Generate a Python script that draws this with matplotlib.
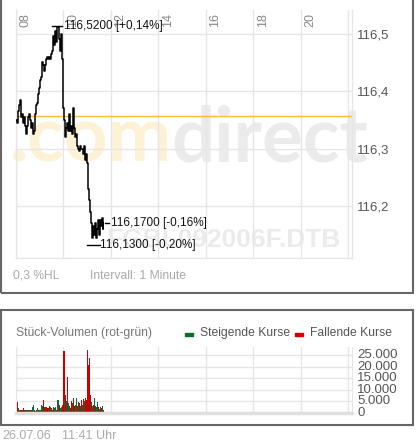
import numpy as np
import matplotlib
matplotlib.use("Agg")
import matplotlib.pyplot as plt
from matplotlib.patches import Rectangle

plt.rcParams['font.family'] = ['Liberation Sans', 'DejaVu Sans']

# ---------------- data ----------------
# price (minutes after 08:00, price)
price_minutes = [0, 3, 5, 8, 10, 13, 15, 18, 20, 23, 25, 28, 30, 33, 35, 38, 40, 43, 45, 48,
                 51, 53, 56, 58, 61, 63, 66, 68, 71, 73, 76, 78, 81, 83, 86, 88, 91, 93, 96, 98,
                 101, 104, 106, 109, 111, 114, 116, 119, 121, 124, 126, 129, 131, 134, 136, 139,
                 142, 144, 147, 149, 152, 154, 157, 159, 162, 164, 167, 169, 172, 174, 177, 179,
                 182, 184, 187, 189, 192, 194, 197, 200, 202, 205, 207, 210, 212, 215, 217, 220, 221]
price_values = [116.350, 116.345, 116.365, 116.375, 116.385, 116.355, 116.360, 116.345, 116.355,
                116.340, 116.325, 116.340, 116.355, 116.360, 116.350, 116.335, 116.345, 116.325,
                116.330, 116.360, 116.375, 116.380, 116.395, 116.405, 116.420, 116.425, 116.450,
                116.445, 116.435, 116.445, 116.455, 116.460, 116.455, 116.460, 116.455, 116.465,
                116.470, 116.495, 116.480, 116.505, 116.485, 116.512, 116.512, 116.490, 116.470,
                116.500, 116.455, 116.370, 116.350, 116.320, 116.335, 116.345, 116.330, 116.360,
                116.330, 116.340, 116.325, 116.370, 116.335, 116.320, 116.325, 116.305, 116.300,
                116.295, 116.305, 116.300, 116.300, 116.290, 116.305, 116.280, 116.290, 116.275,
                116.230, 116.210, 116.190, 116.170, 116.145, 116.165, 116.150, 116.170, 116.145,
                116.160, 116.175, 116.150, 116.175, 116.165, 116.180, 116.160, 116.170]
prev_close = 116.357
high_value, low_value, last_value = 116.513, 116.132, 116.170
high_label = "116,5200 [+0,14%]"
low_label = "116,1300 [-0,20%]"
last_label = "116,1700 [-0,16%]"

hour_ticks = [8, 10, 12, 14, 16, 18, 20, 22]
hour_labels = ["08", "10", "12", "14", "16", "18", "20"]
price_ticks = [116.2, 116.3, 116.4, 116.5]
price_tick_labels = ["116,2", "116,3", "116,4", "116,5"]

# volume bars (one every 2.5 minutes), direction G = rising, R = falling
vol_values = [3000, 4800, 1800, 1300, 900, 1300, 900, 1800, 1300, 1300, 900, 900, 1300, 900,
              1300, 900, 2600, 3500, 900, 500, 900, 1800, 1300, 900, 1300, 3500, 3000, 5300,
              2600, 2600, 2200, 1800, 1800, 3000, 2200, 1800, 1300, 2600, 1800, 2200, 1300,
              5300, 5300, 3500, 2000, 2600, 3500, 4500, 26800, 5700, 7500, 5000, 15500, 4000,
              3000, 2000, 5000, 4000, 6500, 3000, 3500, 6500, 3000, 4500, 4000, 3000, 5500,
              3500, 6000, 5000, 6500, 5500, 27500, 21000, 24000, 7500, 4500, 3000, 3500, 6500,
              3000, 2500, 4500, 2500, 1500, 2500, 2000, 3000, 1000]
vol_dir = list("GRGGRRGRRG" "GGRGGRGGRR" "GGGRGGGRRG" "RRGRGRGRGG" "RGGRGGRGRG"
               "RGRGGRRGRR" "GGRGRGRGRG" "RRRRRRGGRG" "RGGRGRGGR")
vol_ticks = [0, 5000, 10000, 15000, 20000, 25000]
vol_tick_labels = ["0", "5.000", "10.000", "15.000", "20.000", "25.000"]

W, H = 417, 443
def fx(x): return x / W
def fy(y): return 1 - y / H

fig = plt.figure(figsize=(W / 100, H / 100), dpi=100)
fig.patch.set_facecolor('white')

GRID = '#e6e6e6'
BORDER = '#666666'

# panel borders
fig.add_artist(Rectangle((fx(0.5), fy(292.5)), fx(412), (292.5 + 5) / H, transform=fig.transFigure,
                         fill=False, edgecolor=BORDER, lw=1.5))
fig.add_artist(Rectangle((fx(0.5), fy(424.5)), fx(412), 115 / H, transform=fig.transFigure,
                         fill=False, edgecolor=BORDER, lw=1.5))

# ---------------- price chart ----------------
ax = fig.add_axes([fx(16), fy(258), 336 / W, 248 / H])
ax.set_xlim(0, 849)
ax.set_ylim(116.1096, 116.5409)
ax.set_axisbelow(True)
ax.set_xticks([(h - 8) * 60 for h in hour_ticks])
ax.set_yticks(price_ticks)
ax.set_yticklabels(price_tick_labels)
ax.yaxis.tick_right()
ax.tick_params(axis='y', length=0, pad=3.6, labelsize=9.5, labelcolor='#555555')
ax.tick_params(axis='x', length=0, labelbottom=False)
ax.grid(True, color=GRID, lw=1)
for s in ['left', 'right', 'bottom']:
    ax.spines[s].set_color(GRID)
    ax.spines[s].set_linewidth(1)
ax.spines['top'].set_visible(False)

for h, lab in zip(hour_ticks, hour_labels):
    ax.text((h - 8) * 60 + 8, 116.5409 - 0.005, lab, rotation=90, ha='left', va='top',
            fontsize=9, color='#888888')

# watermark
ax.text(fx(172), fy(162), ".com", transform=fig.transFigure, ha='right', va='baseline',
        fontsize=55, fontweight='bold', family='Lato', color='#fdf2d6', zorder=0.1)
ax.text(fx(171), fy(162), "direct", transform=fig.transFigure, ha='left', va='baseline',
        fontsize=55, fontweight='bold', family='Lato', color='#ebebeb', zorder=0.1)
ax.text(fx(340), fy(247), "FGBL092006F.DTB", transform=fig.transFigure, ha='right', va='baseline',
        fontsize=19, fontweight='bold', color='#ebebeb', zorder=0.1)

ax.axhline(prev_close, color='#f2c12e', lw=1, zorder=1)
ax.plot(price_minutes, price_values, color='black', lw=1.1, drawstyle='steps-post', zorder=3)

# markers and labels
ax.plot([91, 116], [high_value, high_value], color='black', lw=1)
ax.text(121, high_value, high_label, ha='left', va='center', fontsize=8.5, color='#111111')
ax.plot([179, 212], [low_value, low_value], color='black', lw=1)
ax.text(213, low_value, low_label, ha='left', va='center', fontsize=8.5, color='#111111')
ax.plot([225, 236], [last_value, last_value], color='black', lw=1)
ax.text(239, last_value, last_label, ha='left', va='center', fontsize=8.5, color='#111111')

fig.text(fx(13), fy(276), "0,3 %HL", ha='left', va='center', fontsize=8.7, color='#aaaaaa')
fig.text(fx(90), fy(276), "Intervall: 1 Minute", ha='left', va='center', fontsize=8.7, color='#aaaaaa')

# ---------------- volume chart ----------------
vx = fig.add_axes([fx(16), fy(412.5), 336 / W, 65.5 / H])
vx.set_xlim(0, 849)
vx.set_ylim(0, 28700)
vx.set_axisbelow(True)
vx.set_xticks([(h - 8) * 60 for h in hour_ticks])
vx.set_yticks(vol_ticks)
vx.set_yticklabels(vol_tick_labels)
vx.yaxis.tick_right()
vx.tick_params(axis='y', length=0, pad=3.6, labelsize=9.5, labelcolor='#555555')
vx.tick_params(axis='x', length=0, labelbottom=False)
vx.grid(True, color=GRID, lw=1)
for s in ['left', 'right']:
    vx.spines[s].set_color(GRID)
vx.spines['bottom'].set_color('#e0e0e0')
vx.spines['bottom'].set_linewidth(2.5)
vx.spines['top'].set_visible(False)
for lab in vx.get_yticklabels():
    lab.set_verticalalignment('center')

GREEN, RED = '#0a6b32', '#cc0000'
bar_x = np.arange(len(vol_values)) * 2.5
colors = [GREEN if d == 'G' else RED for d in vol_dir]
vx.bar(bar_x, vol_values, width=2.6, color=colors, align='edge', linewidth=0,
       antialiased=False, zorder=2)

fig.text(fx(16), fy(333), "Stück-Volumen (rot-grün)", ha='left', va='center', fontsize=8.7, color='#777777')
fig.add_artist(Rectangle((fx(185), fy(335.5)), 8 / W, 3 / H, transform=fig.transFigure, color=GREEN))
fig.text(fx(200), fy(333), "Steigende Kurse", ha='left', va='center', fontsize=8.7, color='#555555')
fig.add_artist(Rectangle((fx(295), fy(335.5)), 8 / W, 3 / H, transform=fig.transFigure, color=RED))
fig.text(fx(310), fy(333), "Fallende Kurse", ha='left', va='center', fontsize=8.7, color='#555555')

fig.text(fx(2), fy(436), "26.07.06", ha='left', va='center', fontsize=9, color='#aaaaaa')
fig.text(fx(62), fy(436), "11:41 Uhr", ha='left', va='center', fontsize=9, color='#aaaaaa')

fig.savefig("out.png", dpi=100)
